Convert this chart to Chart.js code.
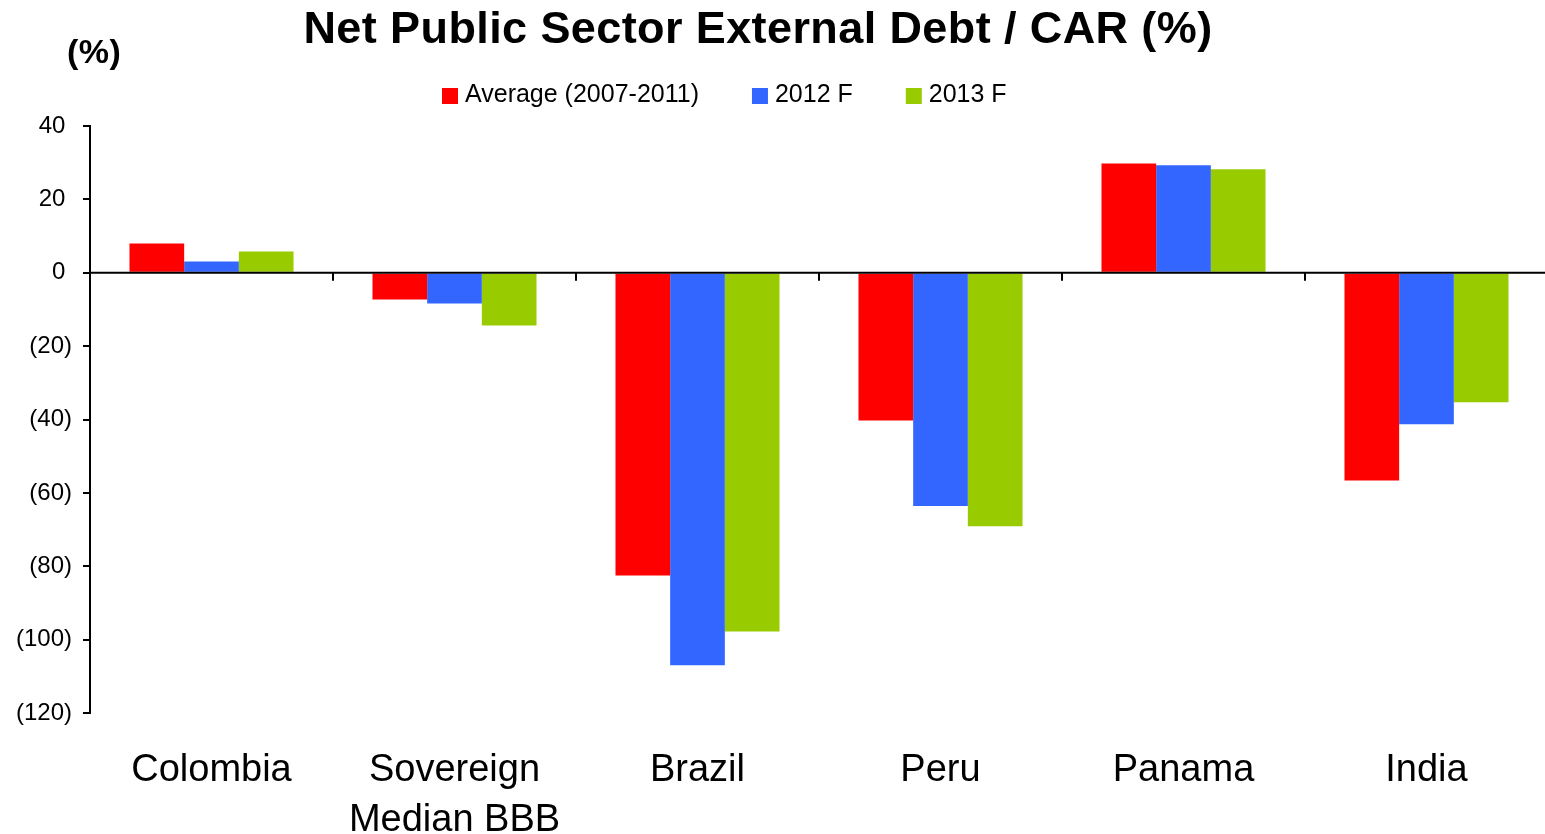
<!DOCTYPE html>
<html>
<head>
<meta charset="utf-8">
<title>Net Public Sector External Debt / CAR (%)</title>
<script src="https://cdn.jsdelivr.net/npm/chart.js@4.4.1/dist/chart.umd.min.js"></script>
<style>
  html, body { margin: 0; padding: 0; background: #fff; overflow: hidden; }
  #wrap { width: 1545px; height: 834px; position: relative; overflow: hidden; }
</style>
</head>
<body>
<div id="wrap"><canvas id="chart" width="1548" height="834"></canvas></div>
<script>
const countries = ['Colombia', ['Sovereign', 'Median BBB'], 'Brazil', 'Peru', 'Panama', 'India'];
const seriesNames = ['Average (2007-2011)', '2012 F', '2013 F'];
const average0711 = [8.0, -7.3, -82.5, -40.3, 29.8, -56.6];
const forecast2012 = [3.1, -8.4, -107.0, -63.6, 29.3, -41.3];
const forecast2013 = [5.8, -14.4, -97.8, -69.1, 28.2, -35.3];
const yTicks = { min: -120, max: 40, step: 20 };

const FONT = "'Liberation Sans', Arial, sans-serif";
const colors = ['#ff0000', '#3366ff', '#99cc00'];

Chart.defaults.font.family = FONT;
Chart.defaults.color = '#000';

// zero line with category separators, title, unit label and legend
const decorations = {
  id: 'decorations',
  afterDatasetsDraw(chart) {
    const ctx = chart.ctx;
    const y = chart.scales.y;
    const area = chart.chartArea;
    const y0 = y.getPixelForValue(0);
    ctx.save();
    ctx.strokeStyle = '#000';
    ctx.lineWidth = 2;
    ctx.beginPath();
    ctx.moveTo(area.left, y0);
    ctx.lineTo(area.right, y0);
    const n = chart.data.labels.length;
    const step = (area.right - area.left) / n;
    for (let i = 1; i < n; i++) {
      const px = Math.round(area.left + i * step);
      ctx.moveTo(px, y0);
      ctx.lineTo(px, y0 + 8);
    }
    ctx.stroke();
    ctx.restore();
  },
  afterDraw(chart) {
    const ctx = chart.ctx;
    ctx.save();
    ctx.fillStyle = '#000';
    ctx.textBaseline = 'alphabetic';

    ctx.font = 'bold 45px ' + FONT;
    ctx.letterSpacing = '0.4px';
    ctx.textAlign = 'center';
    ctx.fillText('Net Public Sector External Debt / CAR (%)', 758, 43);

    ctx.font = 'bold 34px ' + FONT;
    ctx.letterSpacing = '0.5px';
    ctx.textAlign = 'left';
    ctx.fillText('(%)', 67, 63);

    ctx.letterSpacing = '0px';
    ctx.font = '25px ' + FONT;
    let lx = 442;
    chart.data.datasets.forEach(ds => {
      ctx.fillStyle = ds.backgroundColor;
      ctx.fillRect(lx, 88, 16, 16);
      ctx.fillStyle = '#000';
      ctx.fillText(ds.label, lx + 23, 102);
      lx += 23 + ctx.measureText(ds.label).width + 53;
    });
    ctx.restore();
  }
};

new Chart(document.getElementById('chart'), {
  type: 'bar',
  data: {
    labels: countries,
    datasets: [average0711, forecast2012, forecast2013].map((vals, i) => ({
      label: seriesNames[i],
      data: vals,
      backgroundColor: colors[i],
      borderWidth: 0,
      categoryPercentage: 0.675,
      barPercentage: 1
    }))
  },
  options: {
    responsive: false,
    animation: false,
    devicePixelRatio: 1,
    layout: { padding: { top: 126, left: 0, right: 0, bottom: 0 } },
    plugins: {
      legend: { display: false },
      title: { display: false },
      tooltip: { enabled: false }
    },
    scales: {
      x: {
        grid: { display: false },
        border: { display: false },
        ticks: {
          font: { size: 38, lineHeight: 1.32 },
          color: '#000',
          padding: 24,
          maxRotation: 0,
          autoSkip: false
        },
        afterFit(scale) { scale.height = 121; }
      },
      y: {
        min: yTicks.min,
        max: yTicks.max,
        grid: {
          drawOnChartArea: false,
          drawTicks: true,
          tickLength: 7,
          color: '#000',
          lineWidth: 2
        },
        border: { display: true, color: '#000', width: 2 },
        ticks: {
          stepSize: yTicks.step,
          font: { size: 24 },
          color: '#000',
          padding: 11,
          callback: v => v < 0 ? '(' + (-v) + ')' : v + ' '
        },
        afterFit(scale) { scale.width = 90; }
      }
    }
  },
  plugins: [decorations]
});
</script>
</body>
</html>
